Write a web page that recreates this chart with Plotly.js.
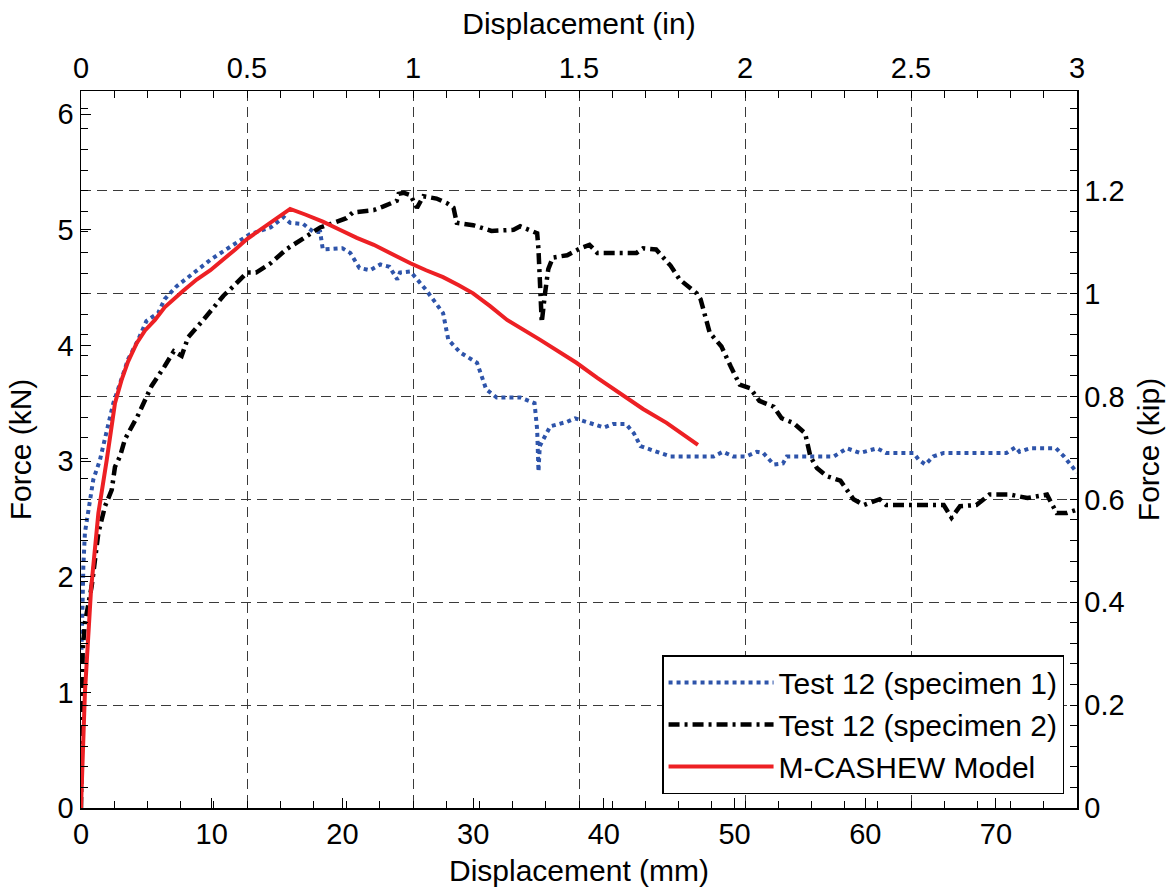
<!DOCTYPE html>
<html>
<head>
<meta charset="utf-8">
<script src="https://cdn.plot.ly/plotly-3.0.1.min.js"></script>
<style>html,body{margin:0;padding:0;background:#fff;}#chart{width:1170px;height:890px;}</style>
</head>
<body>
<div id="chart"></div>
<script>
// ---- data (displacement in mm, force in kN) ----
const seriesNames = ["Test 12 (specimen 1)", "Test 12 (specimen 2)", "M-CASHEW Model"];

const spec1_x = [0.03,0.1,0.18,0.3,0.56,0.94,1.45,1.97,2.47,2.98,3.6,4.38,5.0,5.9,6.4,7.3,8.6,9.9,11.1,12.9,14.5,15.5,16.0,17.0,17.8,18.3,18.5,20.0,20.6,21.3,22.1,22.9,23.6,24.2,24.4,25.2,26.4,27.7,28.1,29.0,30.3,31.0,31.8,33.6,34.7,34.9,35.0,35.1,35.9,37.2,37.8,38.9,40.0,40.7,41.7,42.3,42.8,44.3,45.1,48.4,49.1,49.9,50.9,51.7,52.2,53.0,53.7,54.0,57.6,58.6,59.6,60.9,61.6,63.7,64.1,64.6,65.2,66.0,70.8,71.5,71.8,72.6,74.6,75.2,75.9,76.2];
const spec1_y = [1.3,1.75,2.09,2.38,2.55,2.84,3.01,3.27,3.5,3.67,3.88,4.05,4.21,4.28,4.40,4.51,4.63,4.74,4.83,4.96,5.02,5.11,5.06,5.05,4.98,4.98,4.83,4.84,4.80,4.67,4.65,4.70,4.68,4.57,4.63,4.64,4.48,4.28,4.05,3.94,3.85,3.62,3.55,3.55,3.50,3.27,2.91,3.13,3.30,3.34,3.37,3.33,3.29,3.32,3.32,3.24,3.13,3.07,3.04,3.04,3.08,3.04,3.04,3.08,3.07,2.97,2.98,3.04,3.04,3.11,3.07,3.11,3.07,3.07,3.01,2.97,3.04,3.07,3.07,3.12,3.08,3.11,3.11,3.04,2.94,2.9];

const spec2_x = [0,0.05,0.13,0.3,0.82,1.33,1.84,2.35,2.6,2.98,3.37,4.38,5.4,6.4,7.1,7.7,8.2,9.35,10.9,11.65,12.7,13.4,14.5,15.7,17.0,18.3,19.1,20.3,20.8,22.4,23.1,24.15,24.3,24.7,25.2,25.7,26.2,27.2,28.0,28.5,28.75,30.0,31.4,33.1,33.6,34.9,35.0,35.25,35.5,35.75,36.1,37.2,38.2,38.9,39.5,42.5,43.0,44.0,45.1,45.8,47.1,47.4,48.1,49.0,49.7,50.4,51.2,51.9,53.0,53.6,54.5,55.4,55.8,56.3,57.05,58.1,59.1,59.9,60.6,61.1,61.6,66.0,66.6,67.25,68.5,69.5,71.1,72.4,73.4,73.9,74.65,75.4,76.2];
const spec2_y = [0,0.9,1.37,1.6,1.92,2.38,2.61,2.75,2.95,3.04,3.19,3.40,3.65,3.82,3.95,3.91,4.07,4.22,4.43,4.51,4.63,4.63,4.71,4.83,4.93,5.02,5.05,5.10,5.15,5.17,5.20,5.25,5.31,5.32,5.30,5.19,5.29,5.27,5.23,5.19,5.06,5.04,4.99,5.00,5.03,4.97,4.83,4.20,4.45,4.66,4.76,4.78,4.84,4.87,4.80,4.80,4.84,4.83,4.69,4.57,4.45,4.40,4.11,3.99,3.82,3.66,3.63,3.52,3.47,3.37,3.33,3.24,3.04,2.94,2.87,2.83,2.67,2.62,2.65,2.67,2.62,2.62,2.51,2.61,2.62,2.71,2.71,2.68,2.70,2.71,2.55,2.55,2.58];

const model_x = [0,0.1,0.3,0.77,1.33,1.97,2.6,3.1,3.6,4.26,4.9,5.66,6.4,7.8,8.85,9.9,10.9,11.8,12.7,13.7,14.8,16.0,17.2,18.5,19.8,21.1,22.4,23.6,25.2,26.4,27.7,28.9,30.0,31.3,32.6,35.1,37.9,39.5,41.5,43.0,44.8,47.2];
const model_y = [0,0.35,1.0,1.89,2.55,3.01,3.5,3.7,3.86,4.02,4.13,4.22,4.33,4.47,4.57,4.65,4.74,4.83,4.92,5.0,5.08,5.18,5.13,5.07,5.0,4.93,4.87,4.80,4.71,4.65,4.59,4.52,4.45,4.34,4.22,4.05,3.85,3.72,3.56,3.45,3.33,3.14];

// axis ranges and unit conversion
const mmRange = [0, 76.2];
const kNRange = [0, 6.2];
const MM_PER_IN = 25.4;
const KN_PER_KIP = 4.4482216;
const inRange = [mmRange[0] / MM_PER_IN, mmRange[1] / MM_PER_IN];
const kipRange = [kNRange[0] / KN_PER_KIP, kNRange[1] / KN_PER_KIP];

const FONT = "Liberation Sans, Arial, Helvetica, sans-serif";

const traces = [
  {x: spec1_x, y: spec1_y, name: seriesNames[0], type: "scatter", mode: "lines",
   line: {color: "rgb(46,84,170)", width: 4, dash: "4px,4px"}, legendgroup: "a"},
  {x: spec2_x, y: spec2_y, name: seriesNames[1], type: "scatter", mode: "lines",
   line: {color: "black", width: 4.5, dash: "11px,5px,3px,5px"}, legendgroup: "b"},
  {x: model_x, y: model_y, name: seriesNames[2], type: "scatter", mode: "lines",
   line: {color: "rgb(237,32,36)", width: 4}, legendgroup: "c"},
  {x: [], y: [], xaxis: "x2", yaxis: "y2", showlegend: false, hoverinfo: "skip", type: "scatter"}
];

const tickFont = {family: FONT, size: 29, color: "black"};
const titleFont = {family: FONT, size: 30, color: "black"};

const layout = {
  width: 1170, height: 890,
  margin: {l: 81, r: 93, t: 91, b: 82},
  paper_bgcolor: "white", plot_bgcolor: "white",
  font: {family: FONT, color: "black"},
  showlegend: true,
  legend: {
    x: 0.987, y: 0.0195, xanchor: "right", yanchor: "bottom",
    bgcolor: "white", bordercolor: "black", borderwidth: 1.5,
    font: {family: FONT, size: 30, color: "black"},
    traceorder: "grouped", tracegroupgap: 0, itemwidth: 105
  },
  xaxis: {
    range: mmRange, dtick: 10, tick0: 0,
    ticks: "inside", ticklen: 10, tickwidth: 1, tickcolor: "black",
    showline: true, linecolor: "black", linewidth: 1.5,
    showgrid: false, zeroline: false,
    tickfont: tickFont,
    title: {text: "Displacement (mm)", font: titleFont, standoff: 10}
  },
  xaxis2: {
    overlaying: "x", side: "top", anchor: "y",
    range: inRange, dtick: 0.5, tick0: 0,
    ticks: "inside", ticklen: 7, tickwidth: 1, tickcolor: "black",
    minor: {dtick: 0.1, ticks: "inside", ticklen: 7, tickcolor: "black", showgrid: false},
    showline: true, linecolor: "black", linewidth: 1.5, mirror: "ticks",
    showgrid: true, gridcolor: "#3a3a3a", gridwidth: 1, griddash: "10px,6px",
    zeroline: false,
    tickfont: tickFont,
    title: {text: "Displacement (in)", font: titleFont, standoff: 8}
  },
  yaxis: {
    range: kNRange, dtick: 1, tick0: 0,
    ticks: "inside", ticklen: 10, tickwidth: 1, tickcolor: "black",
    showline: true, linecolor: "black", linewidth: 1.5,
    showgrid: false, zeroline: false,
    tickfont: tickFont,
    title: {text: "Force (kN)", font: titleFont, standoff: 17}
  },
  yaxis2: {
    overlaying: "y", side: "right", anchor: "x",
    range: kipRange, dtick: 0.2, tick0: 0,
    ticks: "inside", ticklen: 7, tickwidth: 1, tickcolor: "black",
    minor: {dtick: 0.04, ticks: "inside", ticklen: 7, tickcolor: "black", showgrid: false},
    showline: true, linecolor: "black", linewidth: 1.5, mirror: "ticks",
    showgrid: true, gridcolor: "#3a3a3a", gridwidth: 1, griddash: "10px,6px",
    zeroline: false,
    tickfont: tickFont,
    title: {text: "Force (kip)", font: titleFont, standoff: 14}
  }
};

Plotly.newPlot("chart", traces, layout, {displayModeBar: false, staticPlot: true});
</script>
</body>
</html>
